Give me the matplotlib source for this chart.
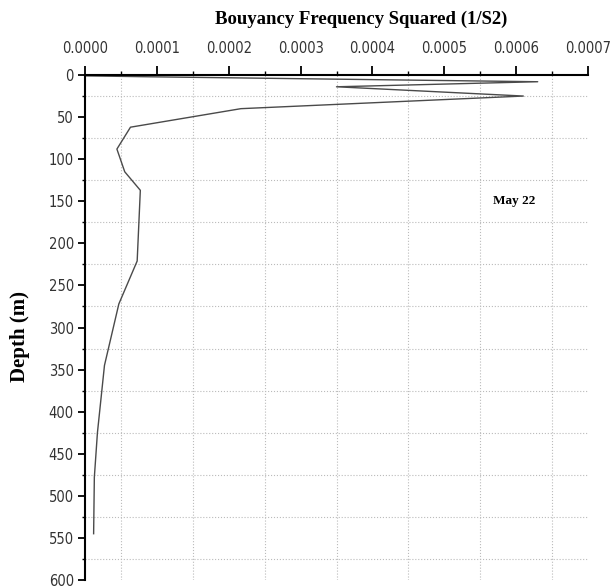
import matplotlib.pyplot as plt
from matplotlib.ticker import MultipleLocator, FormatStrFormatter

# Perfil N^2 (May 22)
profundidad = [1, 2, 8, 14, 25, 40, 62, 88, 115, 137, 221, 272, 345, 425, 478, 545]
n2 = [0.0, 0.00008, 0.00063, 0.00035, 0.00061, 0.000217, 0.0000633, 0.0000444,
      0.0000553, 0.000077, 0.0000726, 0.0000471, 0.0000271, 0.0000173, 0.000013, 0.000012]

etiqueta = "May 22"
etiqueta_pos = (0.000597, 150)

fuente_serif = ['Liberation Serif', 'DejaVu Serif']

fig = plt.figure(figsize=(6.1, 5.88), dpi=100)
ax = fig.add_axes([85/610, 1 - 580/588, (588 - 85)/610, (580 - 75)/588])

ax.plot(n2, profundidad, color="#4a4a4a", lw=1.0)

ax.set_xlim(0, 0.0007)
ax.set_ylim(600, 0)

ax.xaxis.tick_top()
ax.xaxis.set_major_locator(MultipleLocator(0.0001))
ax.xaxis.set_minor_locator(MultipleLocator(0.00005))
ax.xaxis.set_major_formatter(FormatStrFormatter("%.4f"))
ax.yaxis.set_major_locator(MultipleLocator(50))
ax.yaxis.set_minor_locator(MultipleLocator(25))

ax.spines["bottom"].set_visible(False)
ax.spines["right"].set_visible(False)
ax.spines["top"].set_linewidth(1.5)
ax.spines["left"].set_linewidth(1.5)

ax.tick_params(axis="x", which="major", direction="out", length=6.5, width=1.3, pad=7, top=True, bottom=False)
ax.tick_params(axis="x", which="minor", direction="out", length=3, width=1.0, top=True, bottom=False)
ax.tick_params(axis="y", which="major", direction="out", length=5, width=1.3, pad=3)
ax.tick_params(axis="y", which="minor", direction="out", length=2.5, width=1.0)

for lab in ax.get_xticklabels() + ax.get_yticklabels():
    lab.set_family("DejaVu Sans")
    lab.set_stretch("condensed")
    lab.set_fontsize(10.5)
    lab.set_color("#333333")

ax.grid(which="minor", linestyle=":", color="#bbbbbb", lw=0.8)
ax.set_axisbelow(True)

ax.text(etiqueta_pos[0], etiqueta_pos[1], etiqueta, family=fuente_serif,
        fontweight="bold", fontsize=9.5, ha="center", va="center")

fig.text(361/610, 1 - 19/588, "Bouyancy Frequency Squared (1/S2)", family=fuente_serif,
         fontweight="bold", fontsize=13.5, ha="center", va="center")
fig.text(20/610, 1 - 337/588, "Depth (m)", family=fuente_serif, fontweight="bold",
         fontsize=15, rotation=90, ha="center", va="center")

fig.savefig("out.png", dpi=100)
